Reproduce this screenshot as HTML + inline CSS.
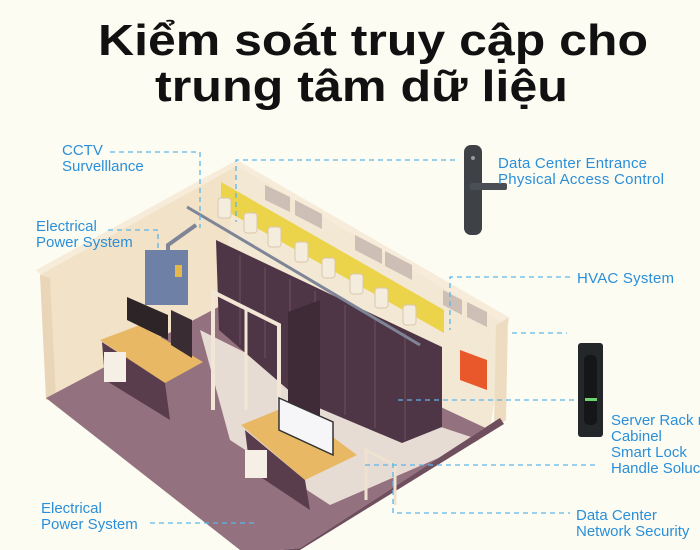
<!DOCTYPE html>
<html><head><meta charset="utf-8"><style>
html,body{margin:0;padding:0;background:#fdfcf3;}
svg{display:block}
.t{font-family:"Liberation Sans","Noto Sans CJK SC",sans-serif;font-weight:bold;font-size:44px;fill:#111}
.l{font-family:"Liberation Sans",sans-serif;font-size:15px;fill:#2a8fd8}
.d{stroke:#5bb6ea;stroke-width:1.3;stroke-dasharray:5 4;fill:none}
</style></head><body>
<svg width="700" height="550" viewBox="0 0 700 550" xmlns="http://www.w3.org/2000/svg">
<rect width="700" height="550" fill="#fdfcf3"/>
<text class="t" x="98" y="55" textLength="550" lengthAdjust="spacingAndGlyphs">Kiểm soát truy cập cho</text>
<text class="t" x="155" y="101" textLength="413" lengthAdjust="spacingAndGlyphs">trung tâm dữ liệu</text>

<polygon points="36,270 237,160 510,318 506,330 490,330 237,172 48,282" fill="#f6ecd9"/>
<polygon points="40,275 237,166 222,305 48,398" fill="#f1e2c8"/>
<polygon points="40,275 50,278 56,398 46,400" fill="#e9d6b8"/>
<polygon points="237,166 506,325 490,430 222,305" fill="#f3e8d4"/>
<polygon points="265,185 290,197 290,212 265,200" fill="#cdbfb6"/>
<polygon points="295,200 322,214 322,229 295,215" fill="#cdbfb6"/>
<polygon points="355,235 382,249 382,264 355,250" fill="#cdbfb6"/>
<polygon points="385,251 412,265 412,280 385,266" fill="#cdbfb6"/>
<polygon points="443,290 462,300 462,315 443,305" fill="#cdbfb6"/>
<polygon points="467,302 487,312 487,327 467,317" fill="#cdbfb6"/>
<polygon points="496,325 508,318 506,420 494,428" fill="#eddcc0"/>
<polygon points="46,398 222,305 490,430 500,418 300,548 280,550 240,550" fill="#94717f"/>
<polygon points="200,330 300,380 480,440 330,505 230,440" fill="#e7dcd3"/>
<polygon points="280,550 300,548 500,418 504,424 300,550" fill="#6f4f5e"/>
<polygon points="216,240 442,347 442,427 402,443 300,400 219,330" fill="#4f3646"/>
<g stroke="#6d5060" stroke-width="1">
<line x1="240" y1="255" x2="240" y2="345"/><line x1="265" y1="267" x2="265" y2="358"/>
<line x1="290" y1="279" x2="290" y2="370"/><line x1="315" y1="291" x2="315" y2="400"/>
<line x1="345" y1="305" x2="345" y2="415"/><line x1="375" y1="319" x2="375" y2="428"/>
<line x1="405" y1="333" x2="405" y2="440"/>
</g>
<polygon points="288,312 320,300 320,420 288,405" fill="#3f2a38"/>
<polygon points="221,182 444,310 444,333 221,208" fill="#ecd44a"/>
<g fill="#f4ecdc" stroke="#d8c9ad" stroke-width="1">
<rect x="218" y="198" width="13" height="20" rx="3"/>
<rect x="244" y="213" width="13" height="20" rx="3"/>
<rect x="268" y="227" width="13" height="20" rx="3"/>
<rect x="295" y="242" width="13" height="20" rx="3"/>
<rect x="322" y="258" width="13" height="20" rx="3"/>
<rect x="350" y="274" width="13" height="20" rx="3"/>
<rect x="375" y="288" width="13" height="20" rx="3"/>
<rect x="403" y="305" width="13" height="20" rx="3"/>
</g>
<line x1="187" y1="207" x2="420" y2="345" stroke="#7e8597" stroke-width="3"/>
<polyline points="196,225 168,245 168,252" stroke="#7e8597" stroke-width="4" fill="none"/>
<rect x="145" y="250" width="43" height="55" fill="#6e80a6"/>
<rect x="175" y="265" width="7" height="12" fill="#e6b74a"/>
<polyline points="213,410 213,292 279,325 279,420" stroke="#f2e6d6" stroke-width="4" fill="none"/>
<line x1="246" y1="308" x2="246" y2="410" stroke="#f2e6d6" stroke-width="3"/>
<polygon points="100,340 140,325 203,362 165,383" fill="#e8b865"/>
<polygon points="102,342 165,383 170,420 105,380" fill="#5a3d4d"/>
<polygon points="127,297 168,315 168,340 127,320" fill="#2d2428"/>
<polygon points="171,310 192,320 192,358 171,345" fill="#3a2c33"/>
<rect x="104" y="352" width="22" height="30" fill="#f5efe6"/>
<polygon points="241,425 290,405 357,455 305,480" fill="#e8b865"/>
<polygon points="245,430 305,480 310,510 250,470" fill="#5a3d4d"/>
<polygon points="279,398 333,422 333,455 279,430" fill="#f6f6f8" stroke="#333" stroke-width="1.5"/>
<rect x="245" y="450" width="22" height="28" fill="#f5efe6"/>
<polygon points="460,350 487,360 487,390 460,380" fill="#e8582a"/>
<polyline points="366,500 366,450 395,465 395,505" stroke="#efe2d0" stroke-width="3" fill="none"/>

<rect x="464" y="145" width="18" height="90" rx="7" fill="#3e4247"/>
<rect x="470" y="183" width="37" height="7" rx="2" fill="#4a4f55"/>
<circle cx="473" cy="158" r="2" fill="#999"/>
<rect x="578" y="343" width="25" height="94" rx="3" fill="#23272a"/>
<rect x="584" y="355" width="13" height="70" rx="5" fill="#141618"/>
<rect x="585" y="398" width="12" height="3" fill="#6ed36e"/>

<path class="d" d="M110 152H200V228"/>
<path class="d" d="M108 230H158V248"/>
<path class="d" d="M455 160H236V222"/>
<path class="d" d="M570 277H450V330"/>
<path class="d" d="M512 333H567"/>
<path class="d" d="M398 400H577"/>
<path class="d" d="M365 465H595"/>
<path class="d" d="M393 463V513H570"/>
<path class="d" d="M150 523H257"/>

<text class="l" x="62" y="155">CCTV</text>
<text class="l" x="62" y="171">Survelllance</text>
<text class="l" x="36" y="231">Electrical</text>
<text class="l" x="36" y="247">Power System</text>
<text class="l" x="498" y="168" textLength="149">Data Center Entrance</text>
<text class="l" x="498" y="184" textLength="166">Physical Access Control</text>
<text class="l" x="577" y="283" textLength="97">HVAC System</text>
<text class="l" x="611" y="425">Server Rack r</text>
<text class="l" x="611" y="441">Cabinel</text>
<text class="l" x="611" y="457">Smart Lock</text>
<text class="l" x="611" y="473">Handle Soluc</text>
<text class="l" x="576" y="520">Data Center</text>
<text class="l" x="576" y="536">Network Security</text>
<text class="l" x="41" y="513">Electrical</text>
<text class="l" x="41" y="529">Power System</text>
</svg>
</body></html>
